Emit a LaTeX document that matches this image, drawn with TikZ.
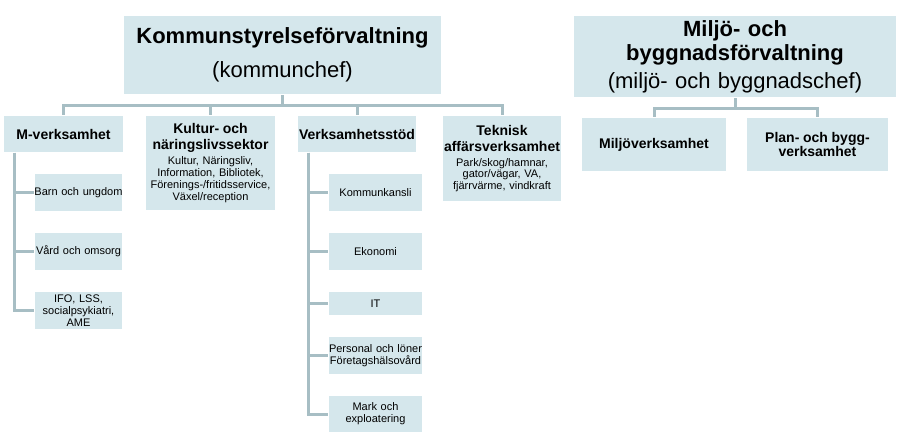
\documentclass[tikz,border=0pt]{standalone}
\usepackage{fontspec}
\setmainfont{Liberation Sans}
\definecolor{boxfill}{HTML}{D5E7EC}
\definecolor{boxedge}{HTML}{E4E4E4}
\definecolor{linkcol}{HTML}{A7BEC4}
\newcommand\unitheadfont{\fontsize{22}{26}\selectfont}
\newcommand\unitsubfont{\fontsize{14}{16}\selectfont\bfseries}
\newcommand\unitsmallfont{\fontsize{11}{12}\selectfont}
\tikzset{
  unitbox/.style={fill=boxfill,draw=boxedge,double=white,double distance=1.4pt,line width=0.4pt,
    align=center,inner xsep=0pt,inner ysep=2pt,font=\unitsmallfont},
  conn/.style={draw=linkcol,line width=3pt}
}
\begin{document}
\begin{tikzpicture}[x=1pt,y=-1pt]
\useasboundingbox (0,0) rectangle (900,441);
% top level
\node[unitbox,text width=319pt,minimum height=80pt,font=\unitheadfont] (ksf) at (282.5,55)
  {\textbf{Kommunstyrelseförvaltning}\\[8pt](kommunchef)};
\node[unitbox,text width=324pt,minimum height=83pt,font=\unitheadfont] (mbf) at (735,56.5)
  {\textbf{Miljö- och}\\[-2pt]\textbf{byggnadsförvaltning}\\[2pt](miljö- och byggnadschef)};
% second level
\node[unitbox,text width=121pt,minimum height=38pt] (mv) at (63.5,134) {\unitsubfont M-verksamhet};
\node[unitbox,text width=131pt,minimum height=96pt] (kn) at (210.5,163)
  {{\unitsubfont Kultur- och\\näringslivssektor\par}\vspace{3pt}Kultur, Näringsliv,\\Information, Bibliotek,\\Förenings-/fritidsservice,\\Växel/reception};
\node[unitbox,text width=120pt,minimum height=38pt] (vs) at (357,134) {\unitsubfont Verksamhetsstöd};
\node[unitbox,text width=120pt,minimum height=87pt] (ta) at (502,158.5)
  {{\unitsubfont Teknisk\\affärsverksamhet\par}\vspace{3pt}{\fontsize{11}{11.5}\selectfont Park/skog/hamnar,\\gator/vägar, VA,\\fjärrvärme, vindkraft\par}\vspace{6pt}};
\node[unitbox,text width=146pt,minimum height=55pt] (miv) at (654,144.5) {\unitsubfont Miljöverksamhet};
\node[unitbox,text width=143pt,minimum height=55pt] (pb) at (817.5,144.5) {\unitsubfont Plan- och bygg-\\verksamhet};
% M-verksamhet
\node[unitbox,text width=89pt,minimum height=39pt] (bu) at (78.5,192.5) {Barn och ungdom};
\node[unitbox,text width=89pt,minimum height=39pt] (vo) at (78.5,251.5) {Vård och omsorg};
\node[unitbox,text width=89pt,minimum height=39pt] (ifo) at (78.5,310.5) {IFO, LSS,\\socialpsykiatri,\\AME};
% Verksamhetsstöd
\node[unitbox,text width=95pt,minimum height=39pt] (kk) at (375.5,192.5) {Kommunkansli};
\node[unitbox,text width=95pt,minimum height=39pt] (ek) at (375.5,251.5) {Ekonomi};
\node[unitbox,text width=95pt,minimum height=25pt] (it) at (375.5,303.5) {IT};
\node[unitbox,text width=95pt,minimum height=39pt] (pl) at (375.5,355.5) {Personal och löner\\Företagshälsovård};
\node[unitbox,text width=95pt,minimum height=38pt] (me) at (375.5,414) {Mark och\\exploatering};
% connectors
\foreach \n in {mv,kn,vs,ta}
  \draw[conn] (ksf.south) -- ++(0,10) -| (\n.north);
\foreach \n in {miv,pb}
  \draw[conn] (mbf.south) -- ++(0,10) -| (\n.north);
\coordinate (mvtrunk) at (14,153);
\coordinate (vstrunk) at (308,153);
\foreach \n in {bu,vo,ifo}
  \draw[conn] (mvtrunk) |- (\n.west);
\foreach \n in {kk,ek,it,pl,me}
  \draw[conn] (vstrunk) |- (\n.west);
\end{tikzpicture}
\end{document}
